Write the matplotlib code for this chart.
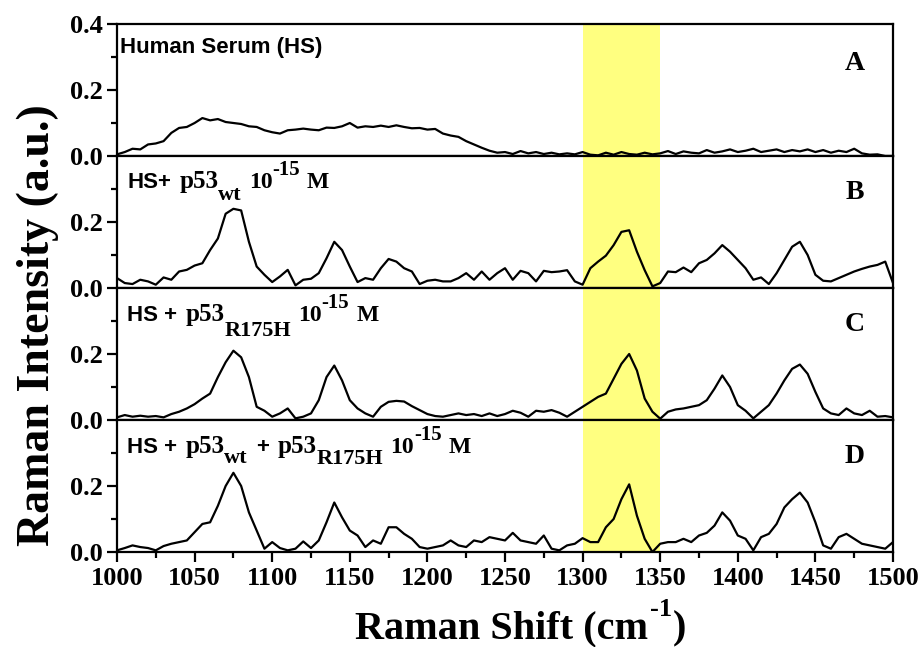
import numpy as np
import matplotlib
matplotlib.use("Agg")
import matplotlib.pyplot as plt
from matplotlib.ticker import MultipleLocator, FixedLocator, FormatStrFormatter

plt.rcParams['font.family'] = ['Liberation Serif', 'DejaVu Serif']
plt.rcParams['font.weight'] = 'bold'

# ---- data (Raman Shift 1000-1500 cm^-1, step 5) ----
spec_A = [0.005, 0.012, 0.022, 0.02, 0.035, 0.038, 0.045, 0.07, 0.085, 0.088,
          0.1, 0.115, 0.108, 0.112, 0.103, 0.1, 0.097, 0.09, 0.088, 0.078,
          0.072, 0.068, 0.078, 0.08, 0.083, 0.08, 0.078, 0.086, 0.085, 0.09,
          0.1, 0.086, 0.09, 0.088, 0.092, 0.088, 0.093, 0.088, 0.084, 0.085,
          0.08, 0.082, 0.068, 0.062, 0.058, 0.045, 0.035, 0.025, 0.016, 0.01,
          0.012, 0.006, 0.015, 0.008, 0.012, 0.006, 0.01, 0.005, 0.008, 0.005,
          0.012, 0.004, 0.002, 0.01, 0.004, 0.012, 0.006, 0.004, 0.01, 0.005,
          0.008, 0.015, 0.006, 0.014, 0.01, 0.008, 0.018, 0.01, 0.014, 0.02,
          0.012, 0.016, 0.022, 0.012, 0.016, 0.02, 0.012, 0.018, 0.014, 0.02,
          0.012, 0.018, 0.01, 0.016, 0.012, 0.022, 0.008, 0.004, 0.005, 0.0,
          0.0]
spec_B = [0.03, 0.015, 0.012, 0.025, 0.02, 0.01, 0.032, 0.025, 0.05, 0.055,
          0.068, 0.075, 0.115, 0.15, 0.225, 0.24, 0.235, 0.14, 0.065, 0.04,
          0.018, 0.035, 0.055, 0.008, 0.025, 0.028, 0.045, 0.09, 0.14, 0.115,
          0.065, 0.018, 0.03, 0.025, 0.06, 0.088, 0.08, 0.06, 0.05, 0.012,
          0.022, 0.025, 0.02, 0.02, 0.03, 0.045, 0.025, 0.05, 0.025, 0.045,
          0.06, 0.025, 0.052, 0.045, 0.02, 0.052, 0.048, 0.05, 0.054, 0.02,
          0.01, 0.06, 0.08, 0.098, 0.13, 0.17, 0.175, 0.11, 0.054, 0.005,
          0.015, 0.05, 0.048, 0.062, 0.048, 0.075, 0.085, 0.105, 0.13, 0.11,
          0.085, 0.06, 0.025, 0.032, 0.012, 0.045, 0.085, 0.125, 0.14, 0.1,
          0.04, 0.022, 0.02, 0.03, 0.04, 0.05, 0.058, 0.065, 0.07, 0.08,
          0.015]
spec_C = [0.008, 0.015, 0.01, 0.013, 0.01, 0.012, 0.008, 0.018, 0.025, 0.035,
          0.048, 0.065, 0.08, 0.13, 0.175, 0.21, 0.19, 0.13, 0.04, 0.028,
          0.01, 0.02, 0.035, 0.005, 0.01, 0.02, 0.06, 0.13, 0.165, 0.12,
          0.06, 0.035, 0.02, 0.01, 0.04, 0.055, 0.058, 0.056, 0.042, 0.03,
          0.018, 0.012, 0.01, 0.015, 0.02, 0.015, 0.018, 0.012, 0.02, 0.012,
          0.018, 0.028, 0.022, 0.01, 0.028, 0.025, 0.03, 0.022, 0.01, 0.025,
          0.04, 0.055, 0.07, 0.08, 0.125, 0.17, 0.2, 0.15, 0.065, 0.025,
          0.004, 0.025, 0.032, 0.035, 0.04, 0.045, 0.06, 0.095, 0.135, 0.1,
          0.045, 0.028, 0.005, 0.025, 0.045, 0.08, 0.12, 0.155, 0.168, 0.14,
          0.085, 0.035, 0.02, 0.015, 0.035, 0.02, 0.015, 0.028, 0.01, 0.012,
          0.008]
spec_D = [0.005, 0.012, 0.02, 0.015, 0.012, 0.005, 0.018, 0.025, 0.03, 0.035,
          0.06, 0.085, 0.09, 0.14, 0.2, 0.24, 0.2, 0.12, 0.065, 0.01,
          0.03, 0.012, 0.005, 0.01, 0.032, 0.012, 0.035, 0.09, 0.15, 0.105,
          0.065, 0.05, 0.015, 0.035, 0.025, 0.075, 0.075, 0.055, 0.04, 0.015,
          0.01, 0.015, 0.02, 0.035, 0.02, 0.015, 0.035, 0.03, 0.045, 0.04,
          0.035, 0.058, 0.035, 0.03, 0.025, 0.05, 0.01, 0.005, 0.02, 0.025,
          0.042, 0.03, 0.03, 0.075, 0.1, 0.16, 0.205, 0.11, 0.04, 0.0,
          0.025, 0.03, 0.03, 0.04, 0.03, 0.05, 0.058, 0.08, 0.12, 0.095,
          0.05, 0.04, 0.005, 0.045, 0.055, 0.085, 0.135, 0.16, 0.18, 0.15,
          0.09, 0.02, 0.01, 0.045, 0.055, 0.04, 0.025, 0.02, 0.015, 0.01,
          0.03]

spectra = [spec_A, spec_B, spec_C, spec_D]
panel_letters = ['A', 'B', 'C', 'D']
x_range = (1000, 1500)
y_range = (0.0, 0.4)
highlight_band = (1300, 1350)

SANS = 'Liberation Sans'
SERIF = 'Liberation Serif'
# each label: list of (text, family, size, gap_pt, dy_pt)
sample_labels = [
    [('Human Serum (HS)', SANS, 16, 0, 0)],
    [('HS+', SANS, 16, 0, 0), ('p53', SERIF, 18, 6, 0), ('wt', SERIF, 16, 0, -8),
     ('10', SERIF, 17, 5, 0), ('-15', SERIF, 15, 0, 10), ('M', SERIF, 17, 5, 0)],
    [('HS +', SANS, 16, 0, 0), ('p53', SERIF, 18, 6, 0), ('R175H', SERIF, 16, 0, -11),
     ('10', SERIF, 17, 5, 0), ('-15', SERIF, 15, 0, 9), ('M', SERIF, 17, 5, 0)],
    [('HS +', SANS, 16, 0, 0), ('p53', SERIF, 18, 6, 0), ('wt', SERIF, 16, 0, -7),
     ('+', SANS, 16, 6, 0), ('p53', SERIF, 18, 6, 0), ('R175H', SERIF, 16, 0, -8),
     ('10', SERIF, 17, 5, 0), ('-15', SERIF, 15, 0, 9), ('M', SERIF, 17, 5, 0)],
]
label_pos = [(0.004, 0.779), (0.013, 0.754), (0.013, 0.75), (0.013, 0.75)]

fig = plt.figure(figsize=(9.2, 6.47), dpi=100)
gs = fig.add_gridspec(4, 1, left=117/920, right=893/920,
                      bottom=1-552/647, top=1-24/647, hspace=0)
axes = [fig.add_subplot(gs[i]) for i in range(4)]


def chain_text(ax, x0, y0, pieces, transform):
    prev = None
    for (s, fam, size, gap, dy) in pieces:
        if prev is None:
            prev = ax.text(x0, y0, s, transform=transform, ha='left', va='baseline',
                           fontsize=size, family=fam, fontweight='bold')
        else:
            prev = ax.annotate(s, xy=(1, y0), xycoords=(prev, transform),
                               xytext=(gap, dy), textcoords='offset points',
                               ha='left', va='baseline', fontsize=size,
                               family=fam, fontweight='bold',
                               annotation_clip=False)
    return prev


for i, (ax, y) in enumerate(zip(axes, spectra)):
    x = np.linspace(x_range[0], x_range[1], len(y))
    ax.axvspan(*highlight_band, color='#ffff80', lw=0, zorder=0)
    ax.plot(x, y, color='black', lw=1.6, zorder=2)
    ax.set_xlim(*x_range)
    ax.set_ylim(*y_range)
    for s in ax.spines.values():
        s.set_linewidth(1.6)
    if i == 0:
        ax.yaxis.set_major_locator(FixedLocator([0.0, 0.2, 0.4]))
    else:
        ax.yaxis.set_major_locator(FixedLocator([0.0, 0.2]))
    ax.yaxis.set_minor_locator(FixedLocator([0.1, 0.3]))
    ax.yaxis.set_major_formatter(FormatStrFormatter('%.1f'))
    ax.tick_params(axis='y', which='major', direction='out', length=7, width=1.6,
                   labelsize=19, pad=3)
    ax.tick_params(axis='y', which='minor', direction='out', length=4, width=1.6)
    ax.xaxis.set_major_locator(MultipleLocator(50))
    ax.xaxis.set_minor_locator(MultipleLocator(25))
    if i < 3:
        ax.tick_params(axis='x', which='both', bottom=False, labelbottom=False)
    else:
        ax.tick_params(axis='x', which='major', direction='out', length=7, width=1.6,
                       labelsize=19, pad=4)
        ax.tick_params(axis='x', which='minor', direction='out', length=4, width=1.6)
    ly = 0.70 if i == 0 else 0.72
    ax.text(0.951, ly, panel_letters[i], transform=ax.transAxes,
            ha='center', va='center', fontsize=20, fontweight='bold')
    chain_text(ax, label_pos[i][0], label_pos[i][1], sample_labels[i], ax.transAxes)

fig.text(38/920, 1-325/647, 'Raman Intensity (a.u.)', rotation=90,
         ha='center', va='center', fontsize=33, fontweight='bold')

# x label with raised "-1"
xl_pieces = [('Raman Shift (cm', SERIF, 29, 0, 0), ('-1', SERIF, 19, 1, 16),
             (')', SERIF, 29, 1, 0)]
chain_text(axes[3], 355/920, 1-638/647, xl_pieces, fig.transFigure)

fig.savefig('out.png', dpi=100)
